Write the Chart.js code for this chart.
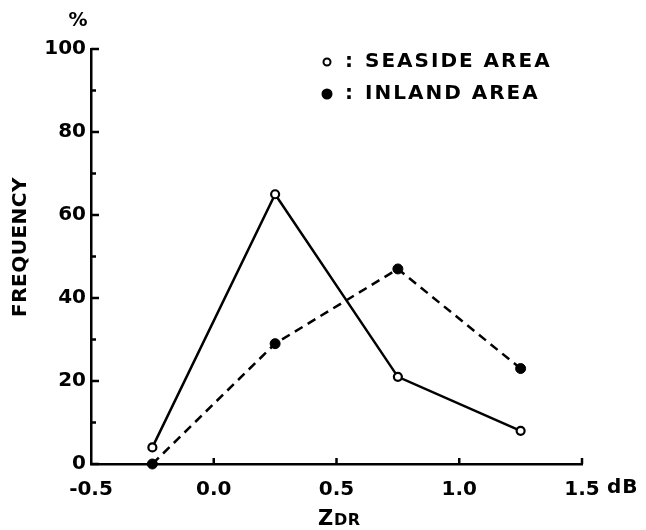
<!DOCTYPE html>
<html>
<head>
<meta charset="utf-8">
<script src="https://cdn.jsdelivr.net/npm/chart.js@4"></script>
<style>
  html, body { margin: 0; padding: 0; background: #fff; }
  #wrap { width: 646px; height: 530px; }
</style>
</head>
<body>
<div id="wrap"><canvas id="chart" width="646" height="530"></canvas></div>
<script>
// data
const zdrBins = [-0.25, 0.25, 0.75, 1.25];
const seaside = [4, 65, 21, 8];
const inland = [0, 29, 47, 23];
const xTicks = [-0.5, 0.0, 0.5, 1.0, 1.5];
const yTicks = [0, 20, 40, 60, 80, 100];

const FONT = "'DejaVu Sans', sans-serif";

// inward tick marks, axis texts and the legend
const extras = {
  id: "extras",
  afterDraw(chart) {
    const ctx = chart.ctx;
    const xs = chart.scales.x, ys = chart.scales.y;
    const a = chart.chartArea;
    ctx.save();
    ctx.strokeStyle = "#000";
    ctx.fillStyle = "#000";
    ctx.lineWidth = 2.5;

    // y ticks, pointing right
    for (let v = 0; v <= 100; v += 10) {
      const y = ys.getPixelForValue(v);
      const len = v % 20 === 0 ? 8 : 5;
      ctx.beginPath();
      ctx.moveTo(a.left, y);
      ctx.lineTo(a.left + len, y);
      ctx.stroke();
    }
    // x ticks, pointing up
    xTicks.forEach(v => {
      if (v === xTicks[0]) return;
      const x = xs.getPixelForValue(v);
      ctx.beginPath();
      ctx.moveTo(x, a.bottom);
      ctx.lineTo(x, a.bottom - 6);
      ctx.stroke();
    });

    ctx.textBaseline = "middle";

    // % unit
    ctx.font = "bold 19px " + FONT;
    ctx.textAlign = "center";
    ctx.fillText("%", 78, 21);

    // y title
    ctx.save();
    ctx.translate(21, 247);
    ctx.rotate(-Math.PI / 2);
    ctx.font = "bold 20px " + FONT;
    ctx.letterSpacing = "0.5px";
    ctx.fillText("FREQUENCY", 0, 0);
    ctx.restore();

    // x title: Z with small DR
    ctx.textAlign = "left";
    ctx.textBaseline = "alphabetic";
    ctx.font = "bold 21px " + FONT;
    ctx.letterSpacing = "0px";
    ctx.fillText("Z", 318, 525);
    ctx.font = "bold 16px " + FONT;
    ctx.letterSpacing = "0.5px";
    ctx.fillText("DR", 334, 525);

    // dB unit
    ctx.font = "bold 20px " + FONT;
    ctx.letterSpacing = "1px";
    ctx.textBaseline = "middle";
    ctx.fillText("dB", 607, 488);

    // legend
    const rows = [
      { label: "SEASIDE AREA", y: 62, fill: "#fff", r: 3.5 },
      { label: "INLAND AREA", y: 94, fill: "#000", r: 4.5 }
    ];
    rows.forEach(r => {
      ctx.beginPath();
      ctx.arc(327, r.y, r.r, 0, Math.PI * 2);
      ctx.fillStyle = r.fill;
      ctx.fill();
      ctx.lineWidth = 2;
      ctx.stroke();
      ctx.fillStyle = "#000";
      ctx.font = "bold 20px " + FONT;
      ctx.letterSpacing = "0px";
      ctx.fillText(":", 345, r.y);
      ctx.letterSpacing = "2px";
      ctx.fillText(r.label, 365, r.y);
    });
    ctx.restore();
  }
};

new Chart(document.getElementById("chart"), {
  type: "line",
  data: {
    datasets: [
      {
        label: "SEASIDE AREA",
        data: zdrBins.map((x, i) => ({ x: x, y: seaside[i] })),
        borderColor: "#000",
        borderWidth: 2.5,
        pointRadius: 4,
        pointBorderWidth: 2.2,
        pointBackgroundColor: "#fff",
        pointBorderColor: "#000",
        clip: false
      },
      {
        label: "INLAND AREA",
        data: zdrBins.map((x, i) => ({ x: x, y: inland[i] })),
        borderColor: "#000",
        borderWidth: 2.5,
        borderDash: [9, 6],
        pointRadius: 5,
        pointBorderWidth: 1,
        pointBackgroundColor: "#000",
        pointBorderColor: "#000",
        clip: false
      }
    ]
  },
  options: {
    responsive: false,
    animation: false,
    layout: { padding: { left: 0, right: 64, top: 49, bottom: 0 } },
    plugins: {
      legend: { display: false },
      tooltip: { enabled: false }
    },
    scales: {
      x: {
        type: "linear",
        min: -0.5,
        max: 1.5,
        afterFit: s => { s.height = 66; },
        afterBuildTicks: s => { s.ticks = xTicks.map(v => ({ value: v })); },
        grid: { display: false, drawTicks: false },
        border: { display: true, color: "#000", width: 2.5 },
        ticks: {
          color: "#000",
          font: { family: FONT, size: 20, weight: "bold" },
          padding: 14,
          maxRotation: 0,
          callback: v => v.toFixed(1)
        }
      },
      y: {
        min: 0,
        max: 100,
        afterFit: s => { s.width = 91; },
        afterBuildTicks: s => { s.ticks = yTicks.map(v => ({ value: v })); },
        grid: { display: false, drawTicks: false },
        border: { display: true, color: "#000", width: 2.5 },
        ticks: {
          color: "#000",
          font: { family: FONT, size: 20, weight: "bold" },
          padding: 5,
          callback: v => String(v)
        }
      }
    }
  },
  plugins: [extras]
});
</script>
</body>
</html>
